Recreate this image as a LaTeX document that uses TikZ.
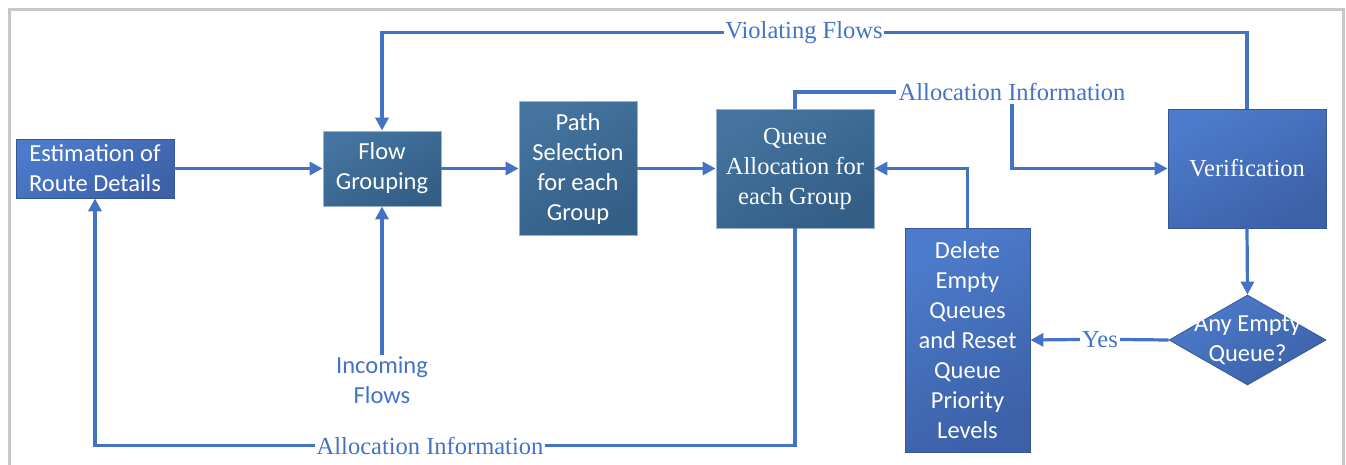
\documentclass[tikz,border=0pt]{standalone}
\usepackage{fontspec}
\setmainfont{Liberation Serif}
\newfontfamily\calfont{Carlito}
\newfontfamily\timfont{Liberation Serif}
\usetikzlibrary{arrows.meta,shapes.geometric}
\definecolor{lineblue}{HTML}{4472C4}
\definecolor{bluetop}{HTML}{4C7BCB}
\definecolor{bluebot}{HTML}{3C61A8}
\definecolor{steeltop}{HTML}{44749F}
\definecolor{steelbot}{HTML}{335E86}
\definecolor{framegray}{HTML}{C8C8C8}
\tikzset{
  boxbase/.style={inner sep=0pt, align=center, text=white, line width=0.8pt},
  calsz/.style={font=\calfont\fontsize{24.5}{30}\selectfont},
  timsz/.style={font=\timfont\fontsize{24.5}{30}\selectfont},
  bluebox/.style={boxbase, draw=bluebot!90!black, top color=bluetop, bottom color=bluebot, shading angle=30},
  steelbox/.style={boxbase, draw=steeltop!55!white, top color=steeltop, bottom color=steelbot, shading angle=30},
  lbl/.style={inner sep=1.5pt, text=lineblue, align=center},
  conn/.style={draw=lineblue, line width=3.2pt},
  arr/.style={conn, -{Triangle[length=13pt,width=13pt]}},
}
\begin{document}
\begin{tikzpicture}[x=1pt,y=-1pt]
\useasboundingbox (0,0) rectangle (1346,464);
% frame
\draw[framegray, line width=3pt] (9,480) -- (9,9.5) -- (1343,9.5) -- (1343,480);
% boxes
\node[bluebox, calsz, minimum width=158pt, minimum height=59pt] (est) at (95,168.5) {Estimation of\\Route Details};
\node[steelbox, calsz, minimum width=118pt, minimum height=75pt] (flow) at (382,168.5) {Flow\\Grouping};
\node[steelbox, calsz, minimum width=118pt, minimum height=134pt] (path) at (578,168.5) {Path\\Selection\\for each\\Group};
\node[steelbox, timsz, minimum width=158pt, minimum height=119pt] (queue) at (795,168.5) {Queue\\Allocation for\\each Group};
\node[bluebox, timsz, minimum width=158pt, minimum height=119pt] (ver) at (1247,168.5) {Verification};
\node[bluebox, calsz, minimum width=125pt, minimum height=224pt] (del) at (967.5,340) {Delete\\Empty\\Queues\\and Reset\\Queue\\Priority\\Levels};
\node[diamond, bluebox, minimum width=157pt, minimum height=90pt] (dia) at (1247.5,340) {};
\node[calsz, text=white, align=center, inner sep=0pt] (diatext) at (1247.5,340) {Any Empty\\Queue?};
% labels
\node[lbl, timsz] (viol) at (804,32.5) {Violating Flows};
\node[lbl, timsz, inner sep=3pt] (atop) at (1012,92) {Allocation Information};
\node[lbl, timsz] (abot) at (430,445.5) {Allocation Information};
\node[lbl, calsz, inner sep=1pt] (inc) at (382,380) {Incoming\\Flows};
\node[lbl, timsz, inner sep=2pt] (yes) at (1100,339.5) {Yes};
% connectors
\draw[arr] (est.east) -- (flow.west);
\draw[arr] (flow.east) -- (path.west);
\draw[arr] (path.east) -- (queue.west);
\draw[arr] (del.north) |- (queue.east);
\draw[conn] (ver.north) |- (viol.east);
\draw[arr] (viol.west) -| (flow.north);
\draw[conn] (queue.north) |- (atop.west);
\draw[arr] (atop.south) |- (ver.west);
\draw[arr] (inc.north) -- (flow.south);
\draw[conn] (queue.south) |- (abot.east);
\draw[arr] (abot.west) -| (est.south);
\draw[arr] (ver.south) -- (dia.north);
\draw[conn] (dia.west) -- (yes.east);
\draw[arr] (yes.west) -- (del.east);
\end{tikzpicture}
\end{document}
